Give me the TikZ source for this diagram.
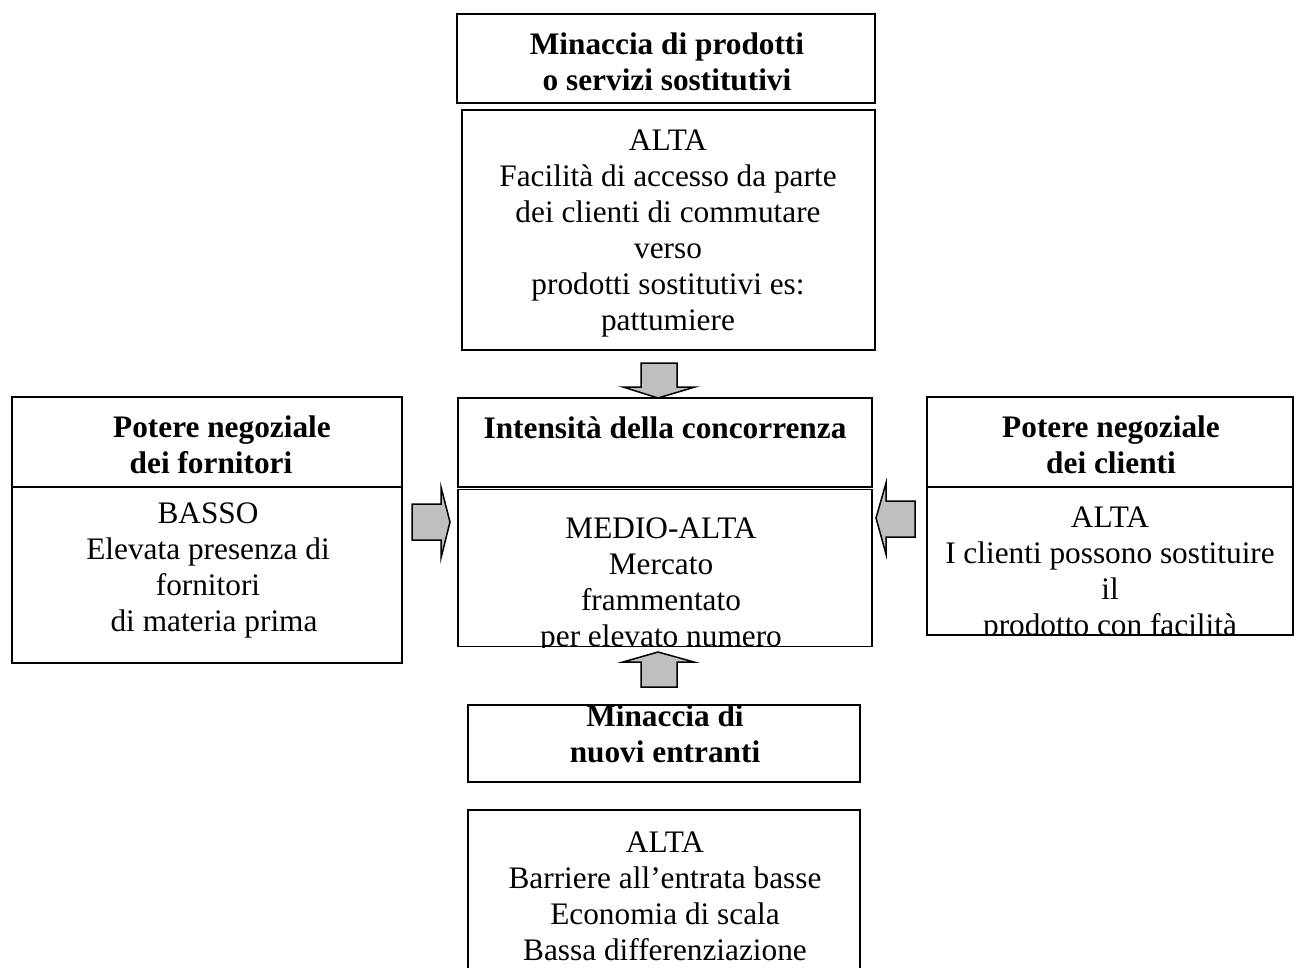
\documentclass[tikz,border=0pt]{standalone}
\usepackage{fontspec}
\setmainfont{Liberation Serif}
\begin{document}
\begin{tikzpicture}[x=1pt,y=-1pt,
  box/.style={draw,line width=1.5pt,rectangle,inner sep=0pt},
  txt/.style={align=center,inner sep=0pt,font=\fontsize{31.3}{36}\selectfont},
  btxt/.style={align=center,inner sep=0pt,font=\fontsize{31.3}{36}\selectfont\bfseries},
  blockarrow/.style={draw,line width=1.5pt,fill=gray!50,line join=miter}]
\useasboundingbox (0,0) rectangle (1296,967);
% boxes
\node[box,minimum width=418pt,minimum height=89pt] (top1) at (666,58.5) {};
\node[box,minimum width=413pt,minimum height=240pt] (top2) at (668.5,230) {};
\node[box,minimum width=414pt,minimum height=89pt] (int) at (665,442.5) {};
\node[box,minimum width=414pt,minimum height=157pt] (medio) at (665,568) {};
\node[box,minimum width=390pt,minimum height=90pt] (supT) at (207,442) {};
\node[box,minimum width=390pt,minimum height=176pt] (supB) at (207,575) {};
\node[box,minimum width=366pt,minimum height=90pt] (cliT) at (1110,442) {};
\node[box,minimum width=366pt,minimum height=148pt] (cliB) at (1110,561) {};
\node[box,minimum width=392pt,minimum height=77pt] (nuovi) at (664,743.5) {};
\node[box,minimum width=392pt,minimum height=170pt] (barr) at (664,895) {};
% texts
\node[btxt] (t1) at (667,62) {Minaccia di prodotti\\o servizi sostitutivi};
\node[txt] (t2) at (668,233.5) {ALTA\\Facilità di accesso da parte\\dei clienti di commutare\\verso\\prodotti sostitutivi es:\\pattumiere};
\node[btxt] (ti) at (665,428) {Intensità della concorrenza};
\begin{scope}
\clip (medio.north west) rectangle (medio.south east);
\node[txt] (tm) at (661,585) {MEDIO-ALTA\\Mercato\\frammentato\\per elevato numero};
\end{scope}
\node[btxt] (ts) at (211,444.5) {\hspace*{22pt}Potere negoziale\\dei fornitori};
\node[txt] (tsb) at (208,570) {BASSO\\Elevata presenza di\\fornitori\\\hspace*{12pt}di materia prima};
\node[btxt] (tc) at (1111,444.5) {Potere negoziale\\dei clienti};
\begin{scope}
\clip (cliB.north west) rectangle (cliB.south east);
\node[txt] (tcb) at (1110,574.5) {ALTA\\I clienti possono sostituire\\il\\prodotto con facilità};
\end{scope}
\node[btxt] (tn) at (665,734) {Minaccia di\\nuovi entranti};
\node[txt] (tb) at (665,896) {ALTA\\Barriere all’entrata basse\\Economia di scala\\Bassa differenziazione};
% block arrows
\draw[blockarrow] (641,363) -- (677,363) -- (677,387) -- (695,387) -- (658,398) -- (623,387) -- (641,387) -- cycle;
\draw[blockarrow] (412,504) -- (441,504) -- (441,487) -- (450,522) -- (441,558) -- (441,540) -- (412,540) -- cycle;
\draw[blockarrow] (915,501) -- (886,501) -- (886,483) -- (876,518) -- (886,554) -- (886,537) -- (915,537) -- cycle;
\draw[blockarrow] (641,687) -- (677,687) -- (677,662) -- (694,662) -- (658,652) -- (623,662) -- (641,662) -- cycle;
\end{tikzpicture}
\end{document}
